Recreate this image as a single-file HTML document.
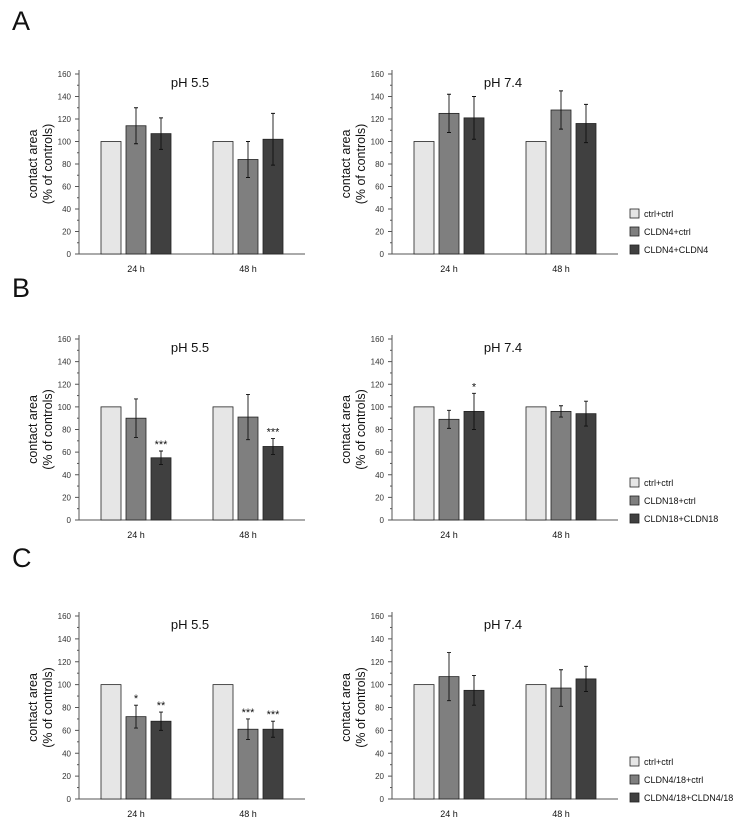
<!DOCTYPE html>
<html><head><meta charset="utf-8"><style>
body{margin:0;background:#fff;}
svg{display:block;font-family:"Liberation Sans",sans-serif;}
</style></head><body>
<svg id="fig" width="744" height="828"></svg>
<script>
const groups = ["24 h","48 h"];
const yTicks = [0,20,40,60,80,100,120,140,160];
const panelLetters = ["A","B","C"];
const panelTitles = ["pH 5.5","pH 7.4"];
const legendA = ["ctrl+ctrl","CLDN4+ctrl","CLDN4+CLDN4"];
const legendB = ["ctrl+ctrl","CLDN18+ctrl","CLDN18+CLDN18"];
const legendC = ["ctrl+ctrl","CLDN4/18+ctrl","CLDN4/18+CLDN4/18"];
const aLeftVal = [[100,114,107],[100,84,102]];
const aLeftErr = [[0,16,14],[0,16,23]];
const aRightVal = [[100,125,121],[100,128,116]];
const aRightErr = [[0,17,19],[0,17,17]];
const bLeftVal = [[100,90,55],[100,91,65]];
const bLeftErr = [[0,17,6],[0,20,7]];
const bLeftSig = [["","","***"],["","","***"]];
const bRightVal = [[100,89,96],[100,96,94]];
const bRightErr = [[0,8,16],[0,5,11]];
const bRightSig = [["","","*"],["","",""]];
const cLeftVal = [[100,72,68],[100,61,61]];
const cLeftErr = [[0,10,8],[0,9,7]];
const cLeftSig = [["","*","**"],["","***","***"]];
const cRightVal = [[100,107,95],[100,97,105]];
const cRightErr = [[0,21,13],[0,16,11]];
const none = [["","",""],["","",""]];

const svg = document.getElementById('fig');
const NS = "http://www.w3.org/2000/svg";
const colors = ["#e6e6e6","#7f7f7f","#404040"];
function mk(tag, attrs, parent){const e=document.createElementNS(NS,tag);for(const k in attrs)e.setAttribute(k,attrs[k]);(parent||svg).appendChild(e);return e;}

function chart(ax, y0, yTop, title, vals, errs, sigs, name){
  const g = mk('g',{});
  
  
  const y = v => y0 - (v/160)*(y0-yTop);
  const barW = 20, step = 25, grpStart = [ax+22, ax+134];
  const yl = mk('line',{x1:ax,y1:yTop-4,x2:ax,y2:y0,stroke:'#555','stroke-width':1},g);
  
  
  const xl = mk('line',{x1:ax,y1:y0,x2:ax+226,y2:y0,stroke:'#555','stroke-width':1},g);
  
  
  for(let v=0; v<=160; v+=10){
    mk('line',{x1:ax-(v%20===0?4:2),y1:y(v),x2:ax,y2:y(v),stroke:'#555','stroke-width':1},g);
  }
  yTicks.forEach(t=>{
    const tx = mk('text',{x:ax-8,y:y(t)+3,'font-size':8,'text-anchor':'end',fill:'#333'},g);
    tx.textContent = t;
    
    
  });
  const tt = mk('text',{x:ax+111,y:yTop+13,'font-size':13,'text-anchor':'middle',fill:'#111'},g);
  tt.textContent = title;
  
  
  const yt = mk('text',{transform:`translate(${ax-34},${(y0+yTop)/2}) rotate(-90)`,'font-size':12.5,'text-anchor':'middle',fill:'#111'},g);
  
  
  const s1 = mk('tspan',{x:0,dy:-8},yt); s1.textContent='contact area';
  const s2 = mk('tspan',{x:0,dy:15},yt); s2.textContent='(%  of controls)';
  groups.forEach((gn,gi)=>{
    const gx = grpStart[gi];
    const lb = mk('text',{x:gx+35,y:y0+18,'font-size':9,'text-anchor':'middle',fill:'#111'},g);
    lb.textContent = gn;
    
    
    vals[gi].forEach((v,si)=>{
      const bx = gx + si*step;
      const r = mk('rect',{x:bx,y:y(v),width:barW,height:y0-y(v),fill:colors[si],stroke:'#222','stroke-width':0.8},g);
      
      
      const e = errs[gi][si];
      if(e>0){
        const cx = bx+barW/2;
        const el = mk('path',{d:`M${cx},${y(v+e)}V${y(v-e)}M${cx-2},${y(v+e)}H${cx+2}M${cx-2},${y(v-e)}H${cx+2}`,stroke:'#111','stroke-width':0.9,fill:'none'},g);
        
        
      }
      const s = sigs[gi][si];
      if(s){
        const st = mk('text',{x:bx+barW/2,y:y(v+e)-3,'font-size':11,'text-anchor':'middle',fill:'#111'},g);
        st.textContent = s;
        
        
      }
    });
  });
}
function legend(x, yFirst, labels){
  labels.forEach((l,i)=>{
    const yy = yFirst + i*18;
    const r = mk('rect',{x:x,y:yy-5,width:9,height:9,fill:colors[i],stroke:'#222','stroke-width':0.8});
    
    
    const t = mk('text',{x:x+14,y:yy+3,'font-size':9,fill:'#111'});
    t.textContent = l;
    
    
  });
}
panelLetters.forEach((L,i)=>{
  const t = mk('text',{x:12,y:[30,297,567][i],'font-size':27,fill:'#111'});
  t.textContent = L;
  
  
});
chart(79,254,74,panelTitles[0],aLeftVal,aLeftErr,none,'chart-a-ph55');
chart(392,254,74,panelTitles[1],aRightVal,aRightErr,none,'chart-a-ph74');
chart(79,520,339,panelTitles[0],bLeftVal,bLeftErr,bLeftSig,'chart-b-ph55');
chart(392,520,339,panelTitles[1],bRightVal,bRightErr,bRightSig,'chart-b-ph74');
chart(79,799,616,panelTitles[0],cLeftVal,cLeftErr,cLeftSig,'chart-c-ph55');
chart(392,799,616,panelTitles[1],cRightVal,cRightErr,none,'chart-c-ph74');
legend(630,214,legendA);
legend(630,483,legendB);
legend(630,762,legendC);
</script>
</body></html>
